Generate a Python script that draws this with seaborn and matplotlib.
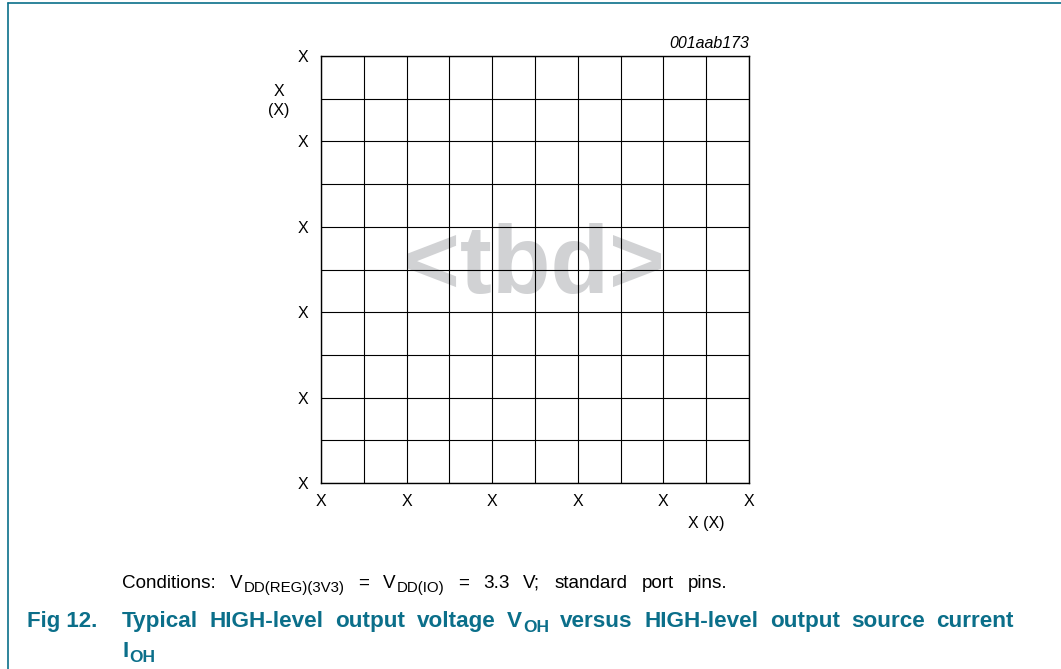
import matplotlib
matplotlib.use("Agg")
import matplotlib.pyplot as plt
import seaborn as sns

# axis ticks (placeholder chart, every label is "X")
x_ticks = [0, 1, 2, 3, 4, 5]
y_ticks = [0, 1, 2, 3, 4, 5]
x_tick_labels = ["X", "X", "X", "X", "X", "X"]
y_tick_labels = ["X", "X", "X", "X", "X", "X"]
grid_lines = [0.5, 1.5, 2.5, 3.5, 4.5]

x_label = "X (X)"
y_label = "X\n(X)"
fig_code = "001aab173"
placeholder = "<tbd>"

# text runs: (text, is_subscript); a space between runs is written as (" ", None)
conditions = [("Conditions: V", False), ("DD(REG)(3V3)", True), (" ", None),
              ("= V", False), ("DD(IO)", True), (" ", None),
              ("= 3.3 V; standard port pins.", False)]
caption_num = "Fig 12."
caption_line1 = [("Typical HIGH-level output voltage V", False), ("OH", True), (" ", None),
                 ("versus HIGH-level output source current", False)]
caption_line2 = [("I", False), ("OH", True)]

teal = "#0b6f8a"
W, H = 1061, 669

sns.set_theme(style="white")
plt.rcParams["font.family"] = ["Liberation Sans", "DejaVu Sans"]

fig = plt.figure(figsize=(W / 100, H / 100), dpi=100)
renderer = fig.canvas.get_renderer()
ax = fig.add_axes([321 / W, 186 / H, 428 / W, 427 / H])

ax.set_xlim(x_ticks[0], x_ticks[-1])
ax.set_ylim(y_ticks[0], y_ticks[-1])
ax.set_xticks(x_ticks)
ax.set_yticks(y_ticks)
ax.set_xticklabels(x_tick_labels)
ax.set_yticklabels(y_tick_labels)
ax.set_xticks(grid_lines, minor=True)
ax.set_yticks(grid_lines, minor=True)
ax.tick_params(which="both", length=0, labelsize=11.5, colors="black")
ax.tick_params(axis="y", pad=9)
ax.tick_params(axis="x", pad=8)
ax.set_axisbelow(False)
ax.grid(True, which="both", color="black", linewidth=0.8)
for s in ax.spines.values():
    s.set_color("black")
    s.set_linewidth(1.0)

# grey placeholder sits behind the grid
ax.text(0.5, (483 - 293) / 427, placeholder, transform=ax.transAxes, ha="center",
        va="baseline", fontsize=69, fontweight="bold", color="#d1d2d4", zorder=1)

ax.text(1.0, 1.012, fig_code, transform=ax.transAxes, ha="right", va="bottom",
        fontsize=11.5, style="italic", color="black")
ax.text(-0.098, 0.895, y_label, transform=ax.transAxes, ha="center", va="center",
        fontsize=11.5, linespacing=1.3, color="black")
ax.text(0.899, -0.095, x_label, transform=ax.transAxes, ha="center", va="center",
        fontsize=11.5, color="black")

# page frame lines
fig.add_artist(plt.Line2D([8 / W, 8 / W], [0, 1 - 3 / H], color=teal, lw=1.2))
fig.add_artist(plt.Line2D([8 / W, 1], [1 - 3 / H, 1 - 3 / H], color=teal, lw=1.2))


def put_runs(x0, x1, y, runs, size, sub_size, sub_drop, **kw):
    # words laid one after another; word gaps stretched so the line ends at x1
    items = []
    for txt, is_sub in runs:
        if is_sub is None:
            items.append(None)
            continue
        words = txt.split(" ")
        for i, w in enumerate(words):
            if i > 0:
                items.append(None)
            fs = sub_size if is_sub else size
            yy = y + sub_drop if is_sub else y
            t = fig.text(0, 1 - yy / H, w, fontsize=fs, ha="left", va="baseline", **kw)
            items.append(t)
    words = [t for t in items if t is not None]
    widths = [t.get_window_extent(renderer).width + 1 for t in words]
    n_gaps = len(items) - len(words)
    gap = 0.0
    if x1 is not None and n_gaps:
        gap = (x1 - x0 - sum(widths)) / n_gaps
    x = x0
    for t in items:
        if t is None:
            x += gap
            continue
        t.set_x(x / W)
        x += t.get_window_extent(renderer).width + 1


put_runs(122, 728, 588, conditions, 13.6, 10.8, 4, color="black")
fig.text(27 / W, 1 - 627 / H, caption_num, fontsize=16, fontweight="bold",
         color=teal, ha="left", va="baseline")
put_runs(122, 1015, 627, caption_line1, 16.2, 12.5, 5, color=teal, fontweight="bold")
put_runs(122, None, 657, caption_line2, 16, 12.5, 5, color=teal, fontweight="bold")

fig.savefig("out.png", dpi=100, facecolor="white")
